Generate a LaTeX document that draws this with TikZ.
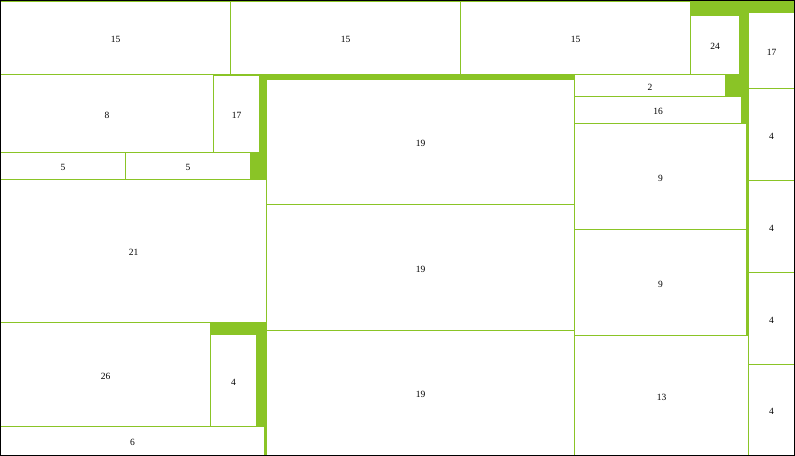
\documentclass[tikz,border=0pt]{standalone}
\usepackage{fontspec}
\setmainfont{Liberation Serif}
\definecolor{leaf}{RGB}{138,196,38}

\begin{document}
\begin{tikzpicture}[
  x=1bp, y=-1bp, line join=miter,
  piece/.style={draw=leaf, line width=1bp, fill=white},
  tag/.style={font=\fontsize{9.5bp}{11bp}\selectfont, inner sep=0pt,
              yshift=-1.5bp}
]

  % ── Sheet (gaps show as green) ───────────────────────────────────────────
  \useasboundingbox (0,0) rectangle (795,456);
  \fill[leaf] (0,0) rectangle (795,456);

  % ── Placed pieces: x0/y0/x1/y1/label ─────────────────────────────────────
  \begin{scope}[shift={(0.5,0.5)}]
    \foreach \xa/\ya/\xb/\yb/\lbl [count=\i] in {
        0/1/230/74/15, 230/1/460/74/15, 460/1/690/74/15, 690/15/739/74/24,
        748/12/794/88/17, 748/88/794/180/4, 748/180/794/272/4,
        748/272/794/364/4, 748/364/794/455/4,
        0/74/213/152/8, 213/75/259/152/17,
        0/152/125/179/5, 125/152/250/179/5,
        0/179/266/322/21,
        0/322/210/426/26, 210/334/256/426/4,
        0/426/264/455/6,
        266/79/574/204/19, 266/204/574/330/19, 266/330/574/455/19,
        574/74/725/96/2, 574/96/741/123/16,
        574/123/746/229/9, 574/229/746/335/9,
        574/335/748/455/13}
    {
      \draw[piece] (\xa,\ya) rectangle (\xb,\yb);
      \node[tag] (p\i) at ({(\xa+\xb)/2},{(\ya+\yb)/2}) {\lbl};
    }
  \end{scope}

  % ── Frame ────────────────────────────────────────────────────────────────
  \draw[black, line width=1bp] (0.5,0.5) rectangle (794.5,455.5);

\end{tikzpicture}
\end{document}
